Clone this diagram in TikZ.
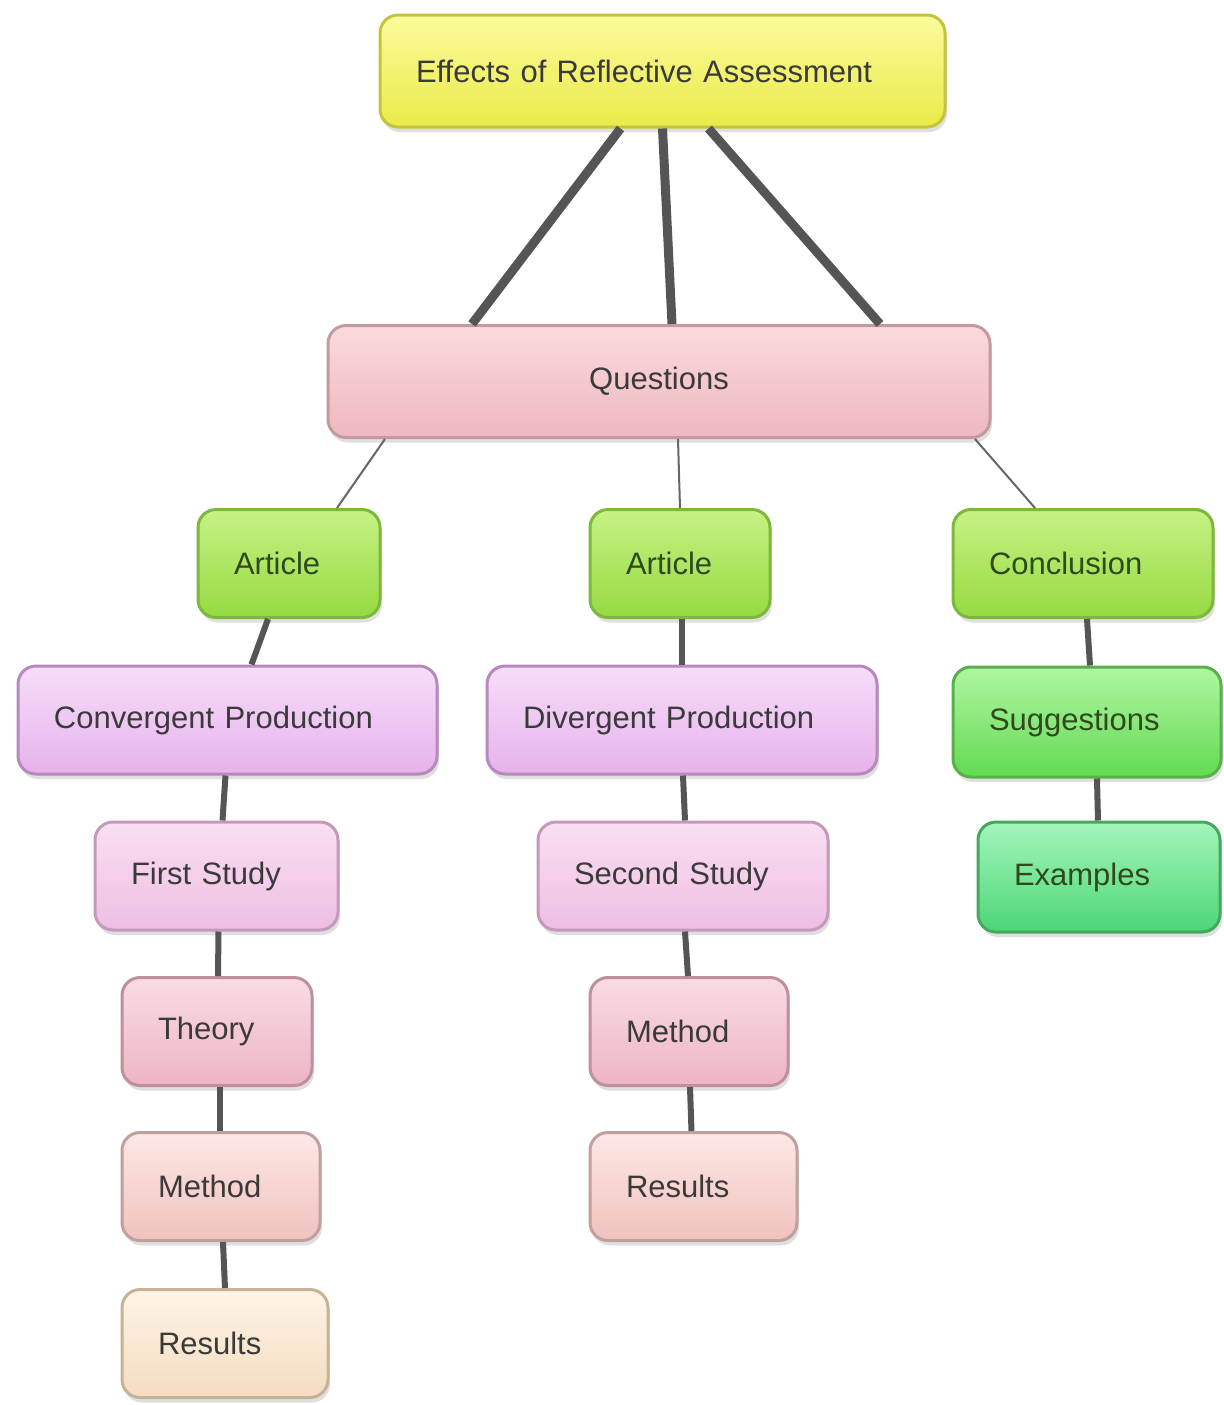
\documentclass[tikz,border=0pt]{standalone}
\usepackage{fontspec}
\setmainfont{Liberation Sans}
\usetikzlibrary{shadows}
\definecolor{ink}{HTML}{3A3A3A}
\definecolor{edge}{HTML}{555555}
\definecolor{yellowtop}{HTML}{FBFB9C}
\definecolor{yellowbot}{HTML}{EAEA48}
\definecolor{yellowline}{HTML}{C4C43C}
\definecolor{rosetop}{HTML}{FADADE}
\definecolor{rosebot}{HTML}{EEB8BE}
\definecolor{roseline}{HTML}{C49AA0}
\definecolor{limetop}{HTML}{C6F284}
\definecolor{limebot}{HTML}{96DA42}
\definecolor{limeline}{HTML}{7DB83A}
\definecolor{lilactop}{HTML}{F7DDF9}
\definecolor{lilacbot}{HTML}{E6B2EC}
\definecolor{lilacline}{HTML}{B68ABC}
\definecolor{orchidtop}{HTML}{FADFF2}
\definecolor{orchidbot}{HTML}{EEBEE2}
\definecolor{orchidline}{HTML}{C49AB8}
\definecolor{pinktop}{HTML}{FADCE4}
\definecolor{pinkbot}{HTML}{EDB4C4}
\definecolor{pinkline}{HTML}{BE909C}
\definecolor{salmontop}{HTML}{FDE8E4}
\definecolor{salmonbot}{HTML}{F0C2BE}
\definecolor{salmonline}{HTML}{BFA09C}
\definecolor{sandtop}{HTML}{FDF4E6}
\definecolor{sandbot}{HTML}{F4DCC0}
\definecolor{sandline}{HTML}{C6B296}
\definecolor{greentop}{HTML}{B0F6A2}
\definecolor{greenbot}{HTML}{62DA52}
\definecolor{greenline}{HTML}{58B048}
\definecolor{minttop}{HTML}{A4F6BA}
\definecolor{mintbot}{HTML}{4CD676}
\definecolor{mintline}{HTML}{46A85E}
\definecolor{leafink}{HTML}{2F4A1E}

\begin{document}
\begin{tikzpicture}[x=0.5pt,y=-0.5pt,
    box/.style={rounded corners=9pt,line width=1.5pt,inner xsep=18pt,align=left,
      minimum height=54pt,text=ink,font=\fontsize{15.5}{18}\selectfont,
      drop shadow={shadow xshift=1pt,shadow yshift=-2.5pt,opacity=.25}},
    yellowbox/.style={box,top color=yellowtop,bottom color=yellowbot,draw=yellowline},
    rosebox/.style={box,top color=rosetop,bottom color=rosebot,draw=roseline},
    limebox/.style={box,top color=limetop,bottom color=limebot,draw=limeline,text=leafink},
    lilacbox/.style={box,top color=lilactop,bottom color=lilacbot,draw=lilacline},
    orchidbox/.style={box,top color=orchidtop,bottom color=orchidbot,draw=orchidline},
    pinkbox/.style={box,top color=pinktop,bottom color=pinkbot,draw=pinkline},
    salmonbox/.style={box,top color=salmontop,bottom color=salmonbot,draw=salmonline},
    sandbox/.style={box,top color=sandtop,bottom color=sandbot,draw=sandline},
    greenbox/.style={box,top color=greentop,bottom color=greenbot,draw=greenline,text=leafink},
    mintbox/.style={box,top color=minttop,bottom color=mintbot,draw=mintline,text=leafink},
    heavylink/.style={draw=edge,line width=4.5pt},
    link/.style={draw=edge,line width=3pt},
    thinlink/.style={draw=edge!90,line width=1pt}]
  \useasboundingbox (0,0) rectangle (1223,1405);

  % root and questions
  \node[yellowbox,text width=246.5pt,minimum height=56pt] (top) at (662.5,71) {Effects of Reflective Assessment};
  \node[rosebox,text width=295pt,align=center,minimum height=56pt] (quest) at (659,381.5) {Questions};

  % second row
  \node[limebox,text width=55pt] (art1) at (289,563.5) {Article};
  \node[limebox,text width=54pt] (art2) at (680,563.5) {Article};
  \node[limebox,text width=94pt] (concl) at (1083,563.5) {Conclusion};

  % third row
  \node[lilacbox,text width=173.5pt] (conv) at (227.5,720) {Convergent Production};
  \node[lilacbox,text width=159pt] (div) at (682,720) {Divergent Production};
  \node[greenbox,text width=98pt,minimum height=55pt] (sugg) at (1087,722) {Suggestions};

  % studies
  \node[orchidbox,text width=85.5pt] (first) at (216.5,876) {First Study};
  \node[orchidbox,text width=109pt] (second) at (683,876) {Second Study};
  \node[mintbox,text width=85pt,minimum height=55pt] (examp) at (1099,877) {Examples};

  % left branch
  \node[pinkbox,text width=59pt] (theory) at (217,1031.5) {Theory};
  \node[salmonbox,text width=63pt] (meth1) at (221,1186.5) {Method};
  \node[sandbox,text width=67pt] (res1) at (225,1343.5) {Results};

  % middle branch
  \node[pinkbox,text width=63pt] (meth2) at (689,1031.5) {Method};
  \node[salmonbox,text width=67.5pt] (res2) at (693.5,1186.5) {Results};

  % links
  \foreach \sa/\sb in {-21/-93.5,0/6.5,23/110.5}
    \draw[heavylink] ([xshift=\sa pt]top.south) -- ([xshift=\sb pt]quest.north);
  \draw[thinlink] ([xshift=-137pt]quest.south) -- ([xshift=24pt]art1.north);
  \draw[thinlink] ([xshift=9.5pt]quest.south) -- (art2.north);
  \draw[thinlink] ([xshift=158pt]quest.south) -- ([xshift=-24pt]concl.north);
  \foreach \a/\sa/\b/\sb in {art1/-10.5/conv/12,art2/1/div/0,concl/2/sugg/1.5,
      conv/-1/first/3,first/1/theory/.5,theory/1.5/meth1/-.5,meth1/1/res1/0,
      div/.5/second/1,second/1/meth2/-.5,meth2/.5/res2/-1,sugg/5/examp/-.5}
    \draw[link] ([xshift=\sa pt]\a.south) -- ([xshift=\sb pt]\b.north);
\end{tikzpicture}
\end{document}
